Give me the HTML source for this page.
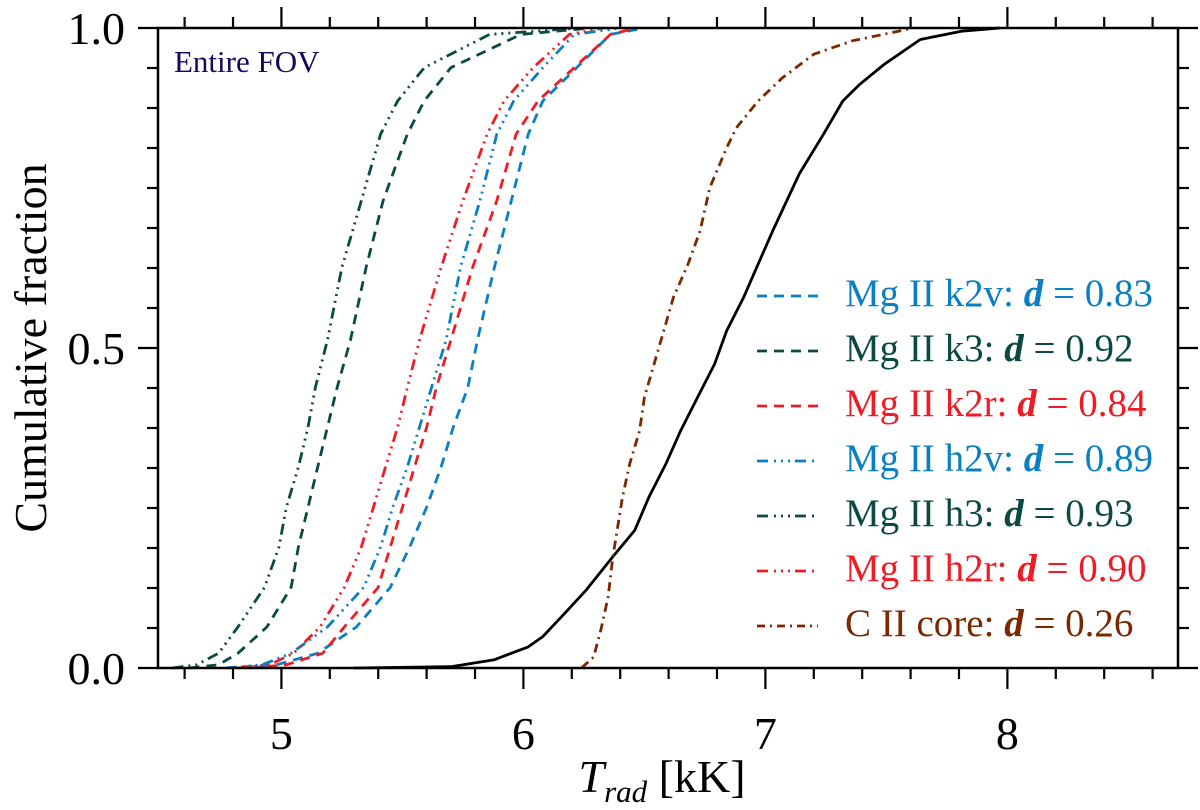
<!DOCTYPE html>
<html><head><meta charset="utf-8"><style>
html,body{margin:0;padding:0;background:#fff;}
svg{display:block;font-family:"Liberation Serif",serif;}
</style></head><body>
<svg id="chart" width="1200" height="810" viewBox="0 0 1200 810" xmlns="http://www.w3.org/2000/svg">
<rect x="0" y="0" width="1200" height="810" fill="#fff"/>
<g id="series"></g>
<g id="axes"></g>
<text x="174" y="72" font-size="31" fill="#14085e">Entire FOV</text>
<text transform="translate(46,348) rotate(-90)" text-anchor="middle" font-size="46">Cumulative fraction</text>
<text x="662" y="792" text-anchor="middle" font-size="46"><tspan font-style="italic">T</tspan><tspan font-style="italic" font-size="31" dy="10">rad</tspan><tspan dy="-10"> [kK]</tspan></text>
<g id="legend"></g>
</svg>
<script>
const fracA = [0,0.005,0.023,0.064,0.126,0.189,0.251,0.314,0.376,0.438,0.512,0.626,0.730,0.834,0.886,0.938,0.99,1];
const k2vT = [4.77,4.98,5.15,5.31,5.45,5.53,5.60,5.66,5.71,5.77,5.81,5.88,5.95,6.02,6.08,6.22,6.36,6.50];
const k3T  = [4.62,4.74,4.82,4.94,5.04,5.07,5.11,5.15,5.19,5.23,5.285,5.35,5.42,5.52,5.59,5.70,5.99,6.28];
const k2rT = [4.87,5.02,5.17,5.26,5.40,5.45,5.50,5.55,5.60,5.64,5.70,5.79,5.89,5.97,6.06,6.21,6.36,6.47];
const h2vT = [4.77,4.92,5.04,5.19,5.34,5.41,5.46,5.52,5.57,5.62,5.68,5.74,5.82,5.89,5.96,6.08,6.21,6.40];
const h3T  = [4.55,4.65,4.74,4.82,4.93,4.99,5.02,5.07,5.11,5.14,5.19,5.25,5.33,5.41,5.48,5.59,5.86,6.24];
const h2rT = [4.82,4.95,5.05,5.16,5.26,5.33,5.38,5.43,5.48,5.52,5.57,5.66,5.75,5.85,5.92,6.04,6.19,6.33];
const blackF = [0,0.002,0.013,0.033,0.049,0.085,0.122,0.174,0.215,0.268,0.32,0.371,0.423,0.475,0.527,0.579,0.631,0.683,0.772,0.834,0.886,0.912,0.943,0.982,0.995,1];
const blackT = [5.3,5.7,5.88,6.02,6.08,6.17,6.26,6.37,6.46,6.52,6.59,6.65,6.72,6.79,6.84,6.91,6.97,7.03,7.14,7.24,7.32,7.39,7.49,7.64,7.81,7.97];
const ciiF = [0,0.017,0.059,0.111,0.174,0.268,0.32,0.371,0.423,0.475,0.527,0.579,0.631,0.683,0.75,0.813,0.844,0.886,0.922,0.959,0.98,0.995,1];
const ciiT = [6.24,6.29,6.32,6.35,6.37,6.41,6.44,6.48,6.50,6.54,6.58,6.62,6.68,6.73,6.77,6.84,6.88,6.97,7.07,7.20,7.36,7.55,7.61];
const xMajor = [5,6,7,8];
const yMajor = [0,0.5,1.0];
const yMajorLabels = ["0.0","0.5","1.0"];
const legendLabels = ["Mg II k2v: ","Mg II k3: ","Mg II k2r: ","Mg II h2v: ","Mg II h3: ","Mg II h2r: ","C II core: "];
const legendD = ["0.83","0.92","0.84","0.89","0.93","0.90","0.26"];

const NS = "http://www.w3.org/2000/svg";
const X0=158, X1=1178, Y0=668, Y1=28, XMIN=4.49, XMAX=8.705;
const xs = v => X0 + (v-XMIN)/(XMAX-XMIN)*(X1-X0);
const ys = v => Y0 - v*(Y0-Y1);
const BLUE="#0a7fc4", DG="#0b4a42", RED="#ee1c25", BR="#7a2800";
const DASH="10 7", DDD="11 5 2 5 2 5 2 5", DD="9 5 2 5";
function mk(tag, attrs, parent){const e=document.createElementNS(NS,tag);for(const k in attrs)e.setAttribute(k,attrs[k]);parent.appendChild(e);return e;}
const sg=document.getElementById('series');
function series(T,F,color,dash,name){
  const d=T.map((t,i)=>(i?'L':'M')+xs(t).toFixed(1)+','+ys(F[i]).toFixed(1)).join(' ');
  const p=mk('path',{d:d,fill:'none',stroke:color,'stroke-width':2.8,'stroke-dasharray':dash||'none','stroke-linejoin':'round'},sg);
  
  
}
series(blackT,blackF,'#000','', 'line-black-solid');
series(ciiT,ciiF,BR,DD,'line-cii-core');
series(k2vT,fracA,BLUE,DASH,'line-mgii-k2v');
series(k3T,fracA,DG,DASH,'line-mgii-k3');
series(k2rT,fracA,RED,DASH,'line-mgii-k2r');
series(h2vT,fracA,BLUE,DDD,'line-mgii-h2v');
series(h3T,fracA,DG,DDD,'line-mgii-h3');
series(h2rT,fracA,RED,DDD,'line-mgii-h2r');

const ax=document.getElementById('axes');
const frame=mk('rect',{x:X0,y:Y1,width:X1-X0,height:Y0-Y1,fill:'none',stroke:'#000','stroke-width':2.5},ax);


for(let v=4.6; v<XMAX; v+=0.2){
  const r=Math.round(v*10)/10; const major=xMajor.includes(r); const L=major?21:11; const x=xs(r);
  const t1=mk('line',{x1:x,x2:x,y1:Y0,y2:Y0+L,stroke:'#000','stroke-width':2.2},ax);
  
  
  const t2=mk('line',{x1:x,x2:x,y1:Y1,y2:Y1-L,stroke:'#000','stroke-width':2.2},ax);
  
  
}
xMajor.forEach(v=>{
  const t=mk('text',{x:xs(v),y:749,'text-anchor':'middle','font-size':46},ax); t.textContent=String(v);
  
  
});
for(let i=0;i<=16;i++){
  const v=i/16; const major=(i%8===0); const L=major?20:11; const y=ys(v);
  const t1=mk('line',{x1:X0-L,x2:X0,y1:y,y2:y,stroke:'#000','stroke-width':2.2},ax);
  
  
  const t2=mk('line',{x1:X1,x2:X1+L,y1:y,y2:y,stroke:'#000','stroke-width':2.2},ax);
  
  
}
yMajor.forEach((v,i)=>{
  const t=mk('text',{x:125,y:ys(v)+16,'text-anchor':'end','font-size':46},ax); t.textContent=yMajorLabels[i];
  
  
});

const lg=document.getElementById('legend');
const lColors=[BLUE,DG,RED,BLUE,DG,RED,BR];
const lDash=[DASH,DASH,DASH,"11 6 2 5 2 5 2 5","11 6 2 5 2 5 2 5","11 6 2 5 2 5 2 5","8 5 2 5"];
legendLabels.forEach((lab,i)=>{
  const by=306+i*55;
  const g=mk('g',{},lg);
  
  
  mk('line',{x1:757,x2:818,y1:by-10,y2:by-10,stroke:lColors[i],'stroke-width':2.8,'stroke-dasharray':lDash[i]},g);
  const t=mk('text',{x:845,y:by,'font-size':39,fill:lColors[i]},g);
  const a=document.createElementNS(NS,'tspan'); a.textContent=lab; t.appendChild(a);
  const b=document.createElementNS(NS,'tspan'); b.setAttribute('font-weight','bold'); b.setAttribute('font-style','italic'); b.textContent='d'; t.appendChild(b);
  const c=document.createElementNS(NS,'tspan'); c.textContent=' = '+legendD[i]; t.appendChild(c);
});
</script>
</body></html>
